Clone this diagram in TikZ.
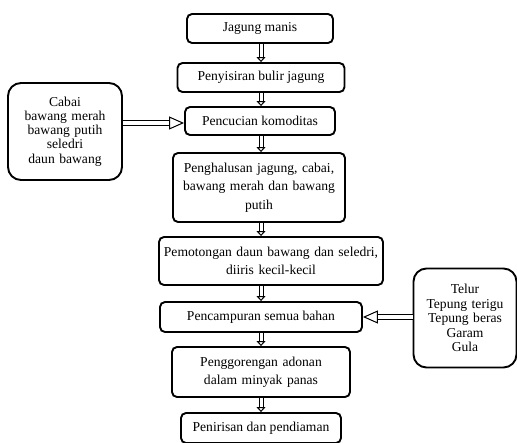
\documentclass[tikz,border=0pt]{standalone}
\usepackage{fontspec}
\setmainfont{Liberation Serif}
\usetikzlibrary{arrows.meta}

\tikzset{
  stepbox/.style={draw, line width=1.9pt, rounded corners=5pt, align=center,
    inner sep=2pt, font=\fontsize{13.6}{18.5}\selectfont},
  inbox/.style={stepbox, rounded corners=13pt, font=\fontsize{13.6}{14.2}\selectfont},
  flow/.style={double, double distance=3pt, line width=1pt,
    -{Triangle[open, length=5pt, width=9pt]}},
  sideflow/.style={double, double distance=3.2pt, line width=1pt,
    -{Triangle[open, length=15pt, width=13pt]}}
}

\begin{document}
\begin{tikzpicture}[x=1pt, y=-1pt]
\useasboundingbox (0,0) rectangle (517,442);
%main steps
\node[stepbox, minimum width=146pt, minimum height=29pt] (jagung) at (260,28.5) {Jagung manis};
\node[stepbox, minimum width=167pt, minimum height=29pt] (sisir) at (261,77.5) {Penyisiran bulir jagung};
\node[stepbox, minimum width=150pt, minimum height=28pt] (cuci) at (260,121) {Pencucian komoditas};
\node[stepbox, minimum width=172pt, minimum height=69pt, text width=166pt] (halus) at (259,187.5)
  {Penghalusan jagung, cabai,\\ bawang merah dan bawang\\ putih};
\node[stepbox, minimum width=224pt, minimum height=48pt, text width=218pt] (potong) at (271,261)
  {Pemotongan daun bawang dan seledri,\\ diiris kecil-kecil};
\node[stepbox, minimum width=202pt, minimum height=30pt] (campur) at (261,317) {Pencampuran semua bahan};
\node[stepbox, minimum width=178pt, minimum height=50pt, text width=172pt] (goreng) at (261,372)
  {Penggorengan adonan\\ dalam minyak panas};
\node[stepbox, minimum width=160pt, minimum height=30pt] (tiris) at (261,428) {Penirisan dan pendiaman};
%side inputs
\node[inbox, minimum width=114pt, minimum height=97pt, text width=108pt] (bumbu) at (65,131.5)
  {Cabai\\ bawang merah\\ bawang putih\\ seledri\\ daun bawang};
\node[inbox, minimum width=103pt, minimum height=99pt, text width=97pt, font=\fontsize{13.6}{14.6}\selectfont] (tepung) at (465,318)
  {Telur\\ Tepung terigu\\ Tepung beras\\ Garam\\ Gula};
\coordinate (bumbuout) at (bumbu.east |- 0,123);
\coordinate (cuciin) at (cuci.west |- 0,123);
\coordinate (tepungout) at (tepung.west |- campur.east);
%arrows
\draw[flow] (jagung.south -| 261,0) -- (sisir.north -| 261,0);
\draw[flow] (sisir.south -| 261,0) -- (cuci.north -| 261,0);
\draw[flow] (cuci.south -| 261,0) -- (halus.north -| 261,0);
\draw[flow] (halus.south -| 261,0) -- (potong.north -| 261,0);
\draw[flow] (potong.south -| 261,0) -- (campur.north -| 261,0);
\draw[flow] (campur.south) -- (goreng.north);
\draw[flow] (goreng.south) -- (tiris.north);
\draw[sideflow] (bumbuout) -- (cuciin);
\draw[sideflow] (tepungout) -- (campur.east);
\end{tikzpicture}
\end{document}
